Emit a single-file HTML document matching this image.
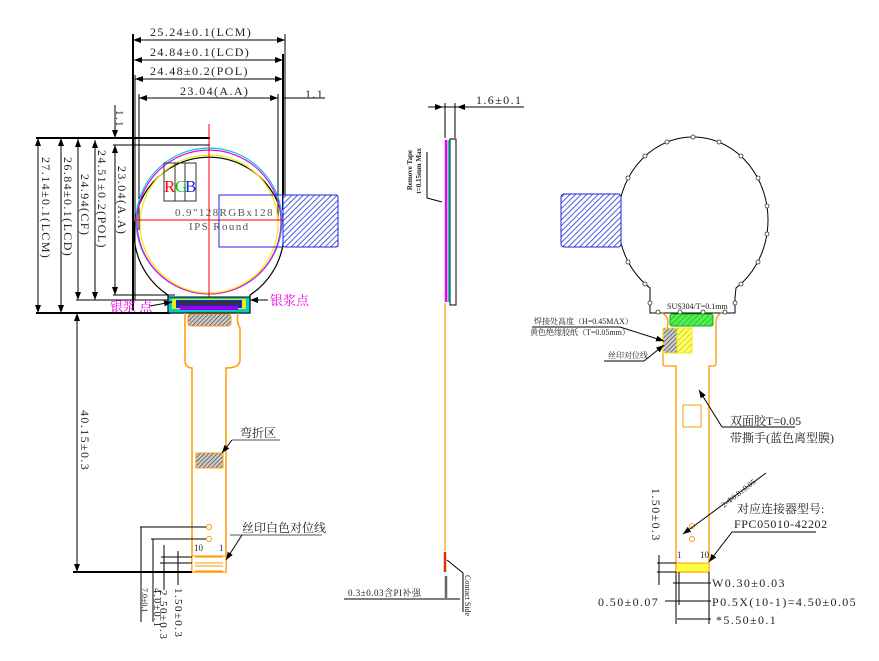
<!DOCTYPE html>
<html><head><meta charset="utf-8"><style>
html,body{margin:0;padding:0;background:#fff;}
svg{display:block;}
text{font-family:"Liberation Serif","Noto Serif CJK SC",serif;fill:#222;}
.d{letter-spacing:1.4px;}
</style></head><body>
<svg width="879" height="661" viewBox="0 0 879 661" xmlns="http://www.w3.org/2000/svg">
<defs>
<pattern id="hb" width="4" height="4" patternUnits="userSpaceOnUse" patternTransform="rotate(45)"><rect width="4" height="4" fill="#fff"/><line x1="0" y1="0" x2="0" y2="4" stroke="#2233dd" stroke-width="1.6"/></pattern>
<pattern id="hk" width="3" height="3" patternUnits="userSpaceOnUse" patternTransform="rotate(45)"><rect width="3" height="3" fill="#ccc"/><line x1="0" y1="0" x2="0" y2="3" stroke="#333" stroke-width="1.2"/></pattern>
<pattern id="hg" width="4" height="4" patternUnits="userSpaceOnUse" patternTransform="rotate(45)"><rect width="4" height="4" fill="#5e5"/><line x1="0" y1="0" x2="0" y2="4" stroke="#1a1" stroke-width="1.2"/></pattern>
<pattern id="hy" width="4" height="4" patternUnits="userSpaceOnUse" patternTransform="rotate(45)"><rect width="4" height="4" fill="#ff6"/><line x1="0" y1="0" x2="0" y2="4" stroke="#aa0" stroke-width="1"/></pattern>
<marker id="ar" markerWidth="8" markerHeight="6" refX="8" refY="3" orient="auto"><path d="M0,0 L8,3 L0,6z" fill="#000"/></marker>
<marker id="al" markerWidth="8" markerHeight="6" refX="0" refY="3" orient="auto"><path d="M8,0 L0,3 L8,6z" fill="#000"/></marker>
</defs>

<!-- ===== LEFT VIEW ===== -->
<g stroke="#000" fill="none">
<line x1="133" y1="40" x2="285" y2="40" marker-start="url(#al)" marker-end="url(#ar)"/>
<line x1="134" y1="60" x2="283" y2="60" marker-start="url(#al)" marker-end="url(#ar)"/>
<line x1="135" y1="79" x2="283" y2="79" marker-start="url(#al)" marker-end="url(#ar)"/>
<line x1="139" y1="98" x2="278" y2="98" marker-start="url(#al)" marker-end="url(#ar)"/>
<line x1="283" y1="98" x2="325" y2="98"/>
<line x1="133" y1="34" x2="133" y2="310" stroke-width="2"/>
<line x1="285" y1="34" x2="285" y2="200"/>
<line x1="283" y1="54" x2="283" y2="210" stroke-width="2"/>
<line x1="135" y1="75" x2="135" y2="300"/>
<line x1="139" y1="94" x2="139" y2="230"/>
<line x1="278" y1="94" x2="278" y2="230"/>
<line x1="115" y1="105" x2="115" y2="138" marker-end="url(#ar)"/>
<line x1="38" y1="138" x2="38" y2="313" marker-start="url(#al)" marker-end="url(#ar)"/>
<line x1="61" y1="138" x2="61" y2="313" marker-start="url(#al)" marker-end="url(#ar)"/>
<line x1="78" y1="139" x2="78" y2="300" marker-start="url(#al)" marker-end="url(#ar)"/>
<line x1="95" y1="140" x2="95" y2="300" marker-start="url(#al)" marker-end="url(#ar)"/>
<line x1="115" y1="145" x2="115" y2="295" marker-start="url(#al)" marker-end="url(#ar)"/>
<line x1="36" y1="138" x2="210" y2="138" stroke-width="2"/>
<line x1="113" y1="145" x2="210" y2="145"/>
<line x1="76" y1="300" x2="175" y2="300"/>
<line x1="113" y1="295" x2="175" y2="295"/>
<line x1="36" y1="313" x2="170" y2="313" stroke-width="2"/>
</g>
<g font-size="12" class="d">
<text x="150" y="36">25.24±0.1(LCM)</text>
<text x="150" y="56">24.84±0.1(LCD)</text>
<text x="150" y="75">24.48±0.2(POL)</text>
<text x="180" y="95">23.04(A.A)</text>
<text x="305" y="98">1.1</text>
<text transform="translate(116,110) rotate(90)" font-size="11">1.1</text>
<text transform="translate(42,157) rotate(90)">27.14±0.1(LCM)</text>
<text transform="translate(64,157) rotate(90)">26.84±0.1(LCD)</text>
<text transform="translate(81,174) rotate(90)">24.94(CF)</text>
<text transform="translate(98,150) rotate(90)">24.51±0.2(POL)</text>
<text transform="translate(118,166) rotate(90)">23.04(A.A)</text>
</g>
<path d="M168,295 A75,75 0 1 1 250,295 L250,313 L168,313 Z" fill="none" stroke="#000" stroke-width="1.2"/>
<circle cx="209" cy="221" r="73" fill="none" stroke="#0cc" stroke-width="1.2"/>
<circle cx="209" cy="222" r="72" fill="none" stroke="#e0e" stroke-width="1.2"/>
<circle cx="209" cy="224" r="69" fill="none" stroke="#ee0" stroke-width="1.2"/>
<line x1="209" y1="124" x2="209" y2="310" stroke="red"/>
<line x1="133" y1="220" x2="293" y2="220" stroke="red"/>
<rect x="219" y="195" width="64" height="52" fill="none" stroke="#22d"/>
<rect x="283" y="195" width="55" height="52" rx="2" fill="url(#hb)" stroke="#22d"/>
<rect x="164" y="163" width="32" height="38" fill="none" stroke="#333"/>
<line x1="175" y1="163" x2="175" y2="201" stroke="#333"/><line x1="185" y1="163" x2="185" y2="201" stroke="#333"/>
<text x="164" y="192" font-size="17" style="fill:red">R</text>
<text x="175" y="192" font-size="17" style="fill:#0c0">G</text>
<text x="185" y="192" font-size="17" style="fill:#22e">B</text>
<text x="175" y="216" font-size="11" class="d" style="fill:#555">0.9"128RGBx128</text>
<text x="189" y="230" font-size="11" class="d" style="fill:#555">IPS Round</text>
<rect x="168" y="297" width="82" height="16" fill="#0cc" stroke="#000"/>
<rect x="172" y="299" width="74" height="10" fill="#ee0"/>
<rect x="176" y="300" width="66" height="8" fill="#22d"/>
<rect x="178" y="301" width="62" height="4" fill="#333"/>
<rect x="180" y="306" width="58" height="4" fill="#90e"/>
<text x="110" y="311" font-size="13" style="fill:#e0e">银浆 点</text>
<text x="270" y="305" font-size="13" style="fill:#e0e">银浆点</text>
<line x1="150" y1="306" x2="172" y2="302" stroke="#000" marker-end="url(#ar)"/>
<line x1="268" y1="300" x2="250" y2="300" stroke="#000" marker-end="url(#ar)"/>
<path d="M185,313 L185,360 Q185,368 192,368 L192,572 L226,572 L226,368 Q240,368 240,360 L240,328 Q236,322 238,313" fill="none" stroke="#f90" stroke-width="1.5"/>
<rect x="188" y="314" width="43" height="12" rx="3" fill="url(#hk)" stroke="#f90"/>
<rect x="196" y="453" width="27" height="15" fill="url(#hk)" stroke="#f90"/>
<rect x="192" y="556" width="34" height="16" fill="#fff" stroke="#f90"/>
<g stroke="#f90" fill="none"><path d="M195,557h28M195,563h28M195,566h28M195,571h28"/></g>
<circle cx="209" cy="527" r="2.5" fill="none" stroke="#f90"/>
<circle cx="209" cy="539" r="2.5" fill="none" stroke="#f90"/>
<text x="240" y="437" font-size="12">弯折区</text>
<line x1="232" y1="440" x2="280" y2="440" stroke="#555"/>
<line x1="232" y1="440" x2="222" y2="453" stroke="#000" marker-end="url(#ar)"/>
<text x="242" y="532" font-size="12">丝印白色对位线</text>
<line x1="230" y1="535" x2="322" y2="535" stroke="#555"/>
<line x1="242" y1="535" x2="226" y2="560" stroke="#000" marker-end="url(#ar)"/>
<text x="194" y="551" font-size="9">10</text><text x="219" y="551" font-size="9" style="fill:#22a">1</text>
<g stroke="#000" fill="none">
<line x1="77" y1="313" x2="77" y2="572" marker-start="url(#al)" marker-end="url(#ar)"/>
<line x1="73" y1="572" x2="192" y2="572" stroke-width="2"/>
<line x1="140" y1="527" x2="206" y2="527"/>
<line x1="151" y1="539" x2="206" y2="539"/>
<line x1="161" y1="557" x2="192" y2="557"/>
<line x1="160" y1="563" x2="192" y2="563"/>
<line x1="141" y1="527" x2="141" y2="622"/>
<line x1="153" y1="539" x2="153" y2="622"/>
<line x1="164" y1="545" x2="164" y2="590"/>
<line x1="178" y1="551" x2="178" y2="585"/>
</g>
<g font-size="11" class="d">
<text transform="translate(81,410) rotate(90)" font-size="12">40.15±0.3</text>
<text transform="translate(142,588) rotate(90)" font-size="8" style="letter-spacing:0">7.0±0.1</text>
<text transform="translate(154,588) rotate(90)" font-size="10">4.0±0.1</text>
<text transform="translate(160,590) rotate(90)">2.50±0.3</text>
<text transform="translate(175,588) rotate(90)">1.50±0.3</text>
</g>

<!-- ===== MIDDLE SIDE VIEW ===== -->
<g stroke="#000" fill="none">
<line x1="428" y1="107" x2="443" y2="107" marker-end="url(#ar)"/>
<line x1="474" y1="107" x2="457" y2="107" marker-end="url(#ar)"/>
<line x1="443" y1="107" x2="524" y2="107"/>
<line x1="445" y1="103" x2="445" y2="138"/>
<line x1="455" y1="103" x2="455" y2="138"/>
<rect x="450" y="139" width="6" height="166"/>
<path d="M427,152 L427,198 L442,202"/>
</g>
<line x1="446" y1="140" x2="446" y2="302" stroke="#e0e" stroke-width="2.5"/>
<line x1="448.5" y1="140" x2="448.5" y2="302" stroke="#0cc" stroke-width="1.5"/>
<line x1="445" y1="303" x2="445" y2="551" stroke="#f90" stroke-width="1.2"/>
<line x1="445" y1="552" x2="445" y2="572" stroke="#d30" stroke-width="2.5"/>
<line x1="446" y1="576" x2="446" y2="598" stroke="#666" stroke-width="2.5"/>
<g stroke="#000" fill="none">
<line x1="344" y1="599" x2="460" y2="599"/>
<path d="M447,560 L463,573 L463,612"/>
</g>
<text x="476" y="104" font-size="12" class="d">1.6±0.1</text>
<text transform="translate(412,150) rotate(-90)" font-size="7" text-anchor="end" style="font-weight:bold">Remove Tape</text>
<text transform="translate(421,148) rotate(-90)" font-size="7" text-anchor="end" style="font-weight:bold">t=0.15mm Max</text>
<text x="348" y="596" font-size="9" style="letter-spacing:0.5px">0.3±0.03含PI补强</text>
<text transform="translate(465,575) rotate(90)" font-size="8">Contact Side</text>

<!-- ===== RIGHT VIEW ===== -->
<path d="M650,313 L650,298 L650,288 A75,83 0 1 1 736,288 L735,298 L735,313 Z" fill="none" stroke="#000" stroke-width="1"/>
<g fill="#fff" stroke="#333" stroke-width="0.8">
<circle cx="693" cy="137" r="2"/><circle cx="719" cy="142" r="2"/><circle cx="667" cy="142" r="2"/>
<circle cx="741" cy="156" r="2"/><circle cx="645" cy="156" r="2"/>
<circle cx="758" cy="178" r="2"/><circle cx="628" cy="178" r="2"/>
<circle cx="767" cy="206" r="2"/><circle cx="619" cy="206" r="2"/>
<circle cx="767" cy="234" r="2"/><circle cx="619" cy="234" r="2"/>
<circle cx="758" cy="262" r="2"/><circle cx="628" cy="262" r="2"/>
<circle cx="741" cy="284" r="2"/><circle cx="645" cy="284" r="2"/>
<circle cx="650" cy="303" r="2"/><circle cx="735" cy="303" r="2"/>
<circle cx="658" cy="312" r="2"/><circle cx="680" cy="312" r="2"/><circle cx="703" cy="312" r="2"/><circle cx="725" cy="312" r="2"/>
</g>
<rect x="561" y="194" width="60" height="53" rx="3" fill="url(#hb)" stroke="#22d"/>
<text x="667" y="309" font-size="8">SUS304/T=0.1mm</text>
<rect x="670" y="314" width="43" height="12" rx="2" fill="url(#hg)" stroke="#1a1"/>
<path d="M662,313 Q668,316 668,322 Q668,330 663,333 L663,364 Q663,366 666,366 L676,366 L676,572 L709,572 L709,366 L714,366 Q716,366 716,362 L716,322 Q716,315 722,313" fill="none" stroke="#f90" stroke-width="1.3"/>
<rect x="663" y="328" width="14" height="25" fill="url(#hk)" stroke="#ee0"/>
<rect x="677" y="328" width="15" height="25" fill="url(#hy)" stroke="#ee0"/>
<rect x="683" y="405" width="18" height="22" fill="none" stroke="#f90"/>
<rect x="676" y="563" width="33" height="9" fill="#ff4" stroke="#f90"/>
<circle cx="692" cy="526" r="2.5" fill="none" stroke="#f90"/>
<circle cx="692" cy="539" r="2.5" fill="none" stroke="#f90"/>
<g font-size="8">
<text x="534" y="324">焊接处高度（H=0.45MAX）</text>
<text x="530" y="335">黄色绝缘胶纸（T=0.05mm）</text>
<text x="608" y="358">丝印对位线</text>
</g>
<g stroke="#000" fill="none">
<line x1="532" y1="327" x2="620" y2="327"/>
<line x1="620" y1="327" x2="664" y2="341" marker-end="url(#ar)"/>
<line x1="604" y1="361" x2="644" y2="361"/>
<line x1="644" y1="361" x2="664" y2="345" marker-end="url(#ar)"/>
<line x1="722" y1="427" x2="795" y2="427"/>
<line x1="722" y1="427" x2="699" y2="390" marker-end="url(#ar)"/>
<line x1="766" y1="473" x2="683" y2="534" marker-end="url(#ar)"/>
<line x1="732" y1="532" x2="816" y2="532"/>
<line x1="732" y1="532" x2="709" y2="562" marker-end="url(#ar)"/>
<line x1="657" y1="563" x2="676" y2="563"/>
<line x1="657" y1="572" x2="676" y2="572"/>
<line x1="659" y1="555" x2="659" y2="585"/>
<line x1="676" y1="572" x2="676" y2="624"/>
<line x1="709" y1="572" x2="709" y2="624"/>
<line x1="679" y1="572" x2="679" y2="605"/>
<line x1="673" y1="583" x2="711" y2="583"/>
<line x1="665" y1="601" x2="711" y2="601"/>
<line x1="677" y1="619" x2="711" y2="619"/>
</g>
<text x="730" y="425" font-size="12">双面胶T=0.05</text>
<text x="730" y="442" font-size="12">带撕手(蓝色离型膜)</text>
<text x="737" y="513" font-size="12">对应连接器型号:</text>
<text x="734" y="528" font-size="12" style="letter-spacing:0.6px">FPC05010-42202</text>
<text transform="translate(724,508) rotate(-38)" font-size="8">2-Φ0.8±0.05</text>
<text x="677" y="558" font-size="9" style="fill:#22a">1</text><text x="700" y="558" font-size="9">10</text>
<text transform="translate(652,488) rotate(90)" font-size="12" class="d">1.50±0.3</text>
<g font-size="12" class="d">
<text x="712" y="587">W0.30±0.03</text>
<text x="598" y="606">0.50±0.07</text>
<text x="712" y="606">P0.5X(10-1)=4.50±0.05</text>
<text x="716" y="624">*5.50±0.1</text>
</g>
</svg>
</body></html>
